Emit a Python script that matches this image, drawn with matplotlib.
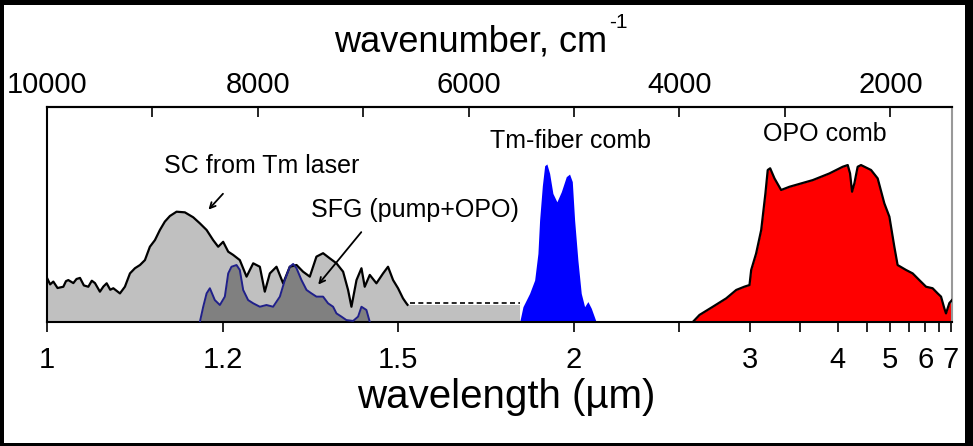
import matplotlib
matplotlib.use('Agg')
import matplotlib.pyplot as plt
from matplotlib.patches import Rectangle

FAM = ['Liberation Sans Narrow', 'Liberation Sans', 'DejaVu Sans']
plt.rcParams['font.family'] = FAM

# ---------------- data (x in wavenumber cm^-1, y in arbitrary units) ----------------
sc_wn = [10000, 9970, 9940, 9900, 9845, 9820, 9798, 9750, 9720, 9687, 9650, 9608, 9575, 9545,
         9498, 9465, 9434, 9400, 9371, 9308, 9261, 9213,
         9166, 9118, 9071, 9024, 8976, 8929, 8882, 8834, 8771, 8692, 8613, 8550, 8486, 8424,
         8376, 8329, 8281, 8234, 8171, 8107, 8044, 7981, 7934, 7886, 7823, 7760, 7697, 7633,
         7571, 7507, 7444, 7381, 7317, 7254, 7191, 7144, 7112, 7064, 7017, 6986, 6938, 6875,
         6812, 6765, 6717, 6670, 6623, 6591, 6580]
sc_val = [20.5, 17.5, 18.8, 15.8, 16.4, 19.0, 19.5, 18.1, 20.0, 20.5, 17.0, 16.4, 19.2, 18.1,
          14.1, 16.5, 18.0, 15.0, 15.7, 13.3, 16.4, 22.6,
          25.0, 26.5, 28.8, 35.0, 38.1, 42.8, 46.7, 49.3, 51.3, 51.0, 48.7, 45.9, 42.8, 38.1,
          35.0, 37.3, 32.7, 31.2, 28.8, 21.1, 27.3, 25.7, 14.1, 22.6, 25.7, 18.0, 25.7, 26.5,
          23.4, 21.1, 30.4, 32.0, 29.6, 27.3, 23.4, 14.9, 7.1, 19.5, 25.0, 16.4, 21.9, 18.0,
          22.6, 25.7, 19.5, 15.7, 11.0, 8.7, 8.0]

sfg_wn = [8550, 8518, 8486, 8455, 8408, 8360, 8313, 8281, 8250, 8202, 8171, 8139, 8092, 8044,
          7981, 7918, 7855, 7791, 7744, 7697, 7665, 7633, 7586, 7538, 7491, 7444, 7381, 7334,
          7286, 7254, 7207, 7160, 7096, 7049, 7017, 6970, 6938]
sfg_val = [0, 7.1, 13.3, 15.7, 10.2, 7.9, 11.8, 22.6, 25.7, 26.5, 24.2, 14.9, 10.2, 8.7,
           7.1, 7.9, 7.1, 11.8, 19.5, 25.7, 27.0, 25.0, 19.5, 14.9, 13.3, 11.8, 11.8, 8.7,
           7.1, 4.0, 2.5, 0.9, 0.5, 2.5, 7.1, 5.6, 0]

gap_wn = [6591, 5516]
gap_val = [8.0, 8.0]
dash_wn = [6560, 5516]
dash_val = [9.0, 9.0]

tm_wn = [5516, 5485, 5422, 5374, 5343, 5327, 5301, 5279, 5258, 5232, 5201, 5163, 5121, 5074,
         5043, 5017, 4995, 4964, 4932, 4900, 4869, 4837, 4790]
tm_val = [0, 7.1, 13.3, 19.5, 31.9, 47.4, 63.4, 72.7, 73.5, 69.1, 59.8, 55.9, 60.6, 67.6,
          68.8, 65.3, 47.4, 28.8, 13.3, 7.1, 9.5, 6.4, 0]

opo_wn = [3874, 3810, 3684, 3557, 3462, 3386, 3336, 3320, 3273, 3225, 3185, 3163, 3140, 3099,
          3036, 2957, 2736, 2578, 2452, 2404, 2382, 2363, 2341, 2310, 2278, 2183, 2120, 2057,
          2009, 1962, 1931, 1851, 1788, 1725, 1661, 1599, 1551, 1519, 1488, 1472, 1440, 1415]
opo_val = [0, 3.3, 7.1, 11.0, 14.9, 16.4, 17.2, 24.2, 31.9, 42.8, 59.8, 70.7, 71.5, 66.8,
           61.4, 62.9, 66.0, 69.1, 72.2, 73.0, 69.1, 60.6, 64.5, 72.2, 73.0, 70.7, 66.8, 55.2,
           49.0, 35.0, 26.5, 24.2, 22.6, 19.5, 16.4, 15.7, 13.3, 11.8, 6.4, 4.0, 8.8, 10.2]

wl_major = [1, 1.2, 1.5, 2, 3, 4, 5, 6, 7]
wl_minor = [2.5, 3.5, 4.5, 5.5, 6.5]
wn_major = [10000, 8000, 6000, 4000, 2000]
wn_minor = [9000, 7000, 5000, 3000]

labels = ['SC from Tm laser', 'SFG (pump+OPO)', 'Tm-fiber comb', 'OPO comb']

# ---------------- figure ----------------
fig = plt.figure(figsize=(9.73, 4.46), dpi=100, facecolor='black')
fig.patches.append(Rectangle((4 / 973, 3 / 446), 961 / 973, 438 / 446,
                             transform=fig.transFigure, facecolor='white',
                             edgecolor='none', zorder=-10))
ax = fig.add_axes([47 / 973, 124 / 446, 905 / 973, 215 / 446])
ax.set_xlim(10000, 1415)
ax.set_ylim(0, 100)

ax.fill_between(sc_wn, sc_val, 0, color='#c0c0c0', lw=0, zorder=1)
ax.plot(sc_wn, sc_val, color='black', lw=1.6, zorder=3)
ax.fill_between(sfg_wn, sfg_val, 0, color='#808080', lw=0, zorder=2)
ax.plot(sfg_wn, sfg_val, color='#20208a', lw=1.4, zorder=3)
ax.fill_between(gap_wn, gap_val, 0, color='#c0c0c0', lw=0, zorder=1)
ax.plot(dash_wn, dash_val, color='black', ls=(0, (3, 2)), lw=1.2, zorder=3)
ax.fill_between(tm_wn, tm_val, 0, color='#0000ff', lw=0, zorder=2)
ax.fill_between(opo_wn, opo_val, 0, color='#ff0000', lw=0, zorder=2)
ax.plot(opo_wn, opo_val, color='black', lw=1.6, zorder=3)

ax.text(7962, 72.6, labels[0], fontsize=18, ha='center', va='center')
ax.text(6512, 52.0, labels[1], fontsize=18, ha='center', va='center')
ax.text(5033, 84.2, labels[2], fontsize=18, ha='center', va='center')
ax.text(2625, 87.4, labels[3], fontsize=18, ha='center', va='center')

ax.annotate('', xy=(8486, 51.3), xytext=(8313, 60.6),
            arrowprops=dict(arrowstyle='->', lw=1.3, color='black', mutation_scale=10))
ax.annotate('', xy=(7444, 16.4), xytext=(7002, 42.8),
            arrowprops=dict(arrowstyle='->', lw=1.3, color='black', mutation_scale=10))

# bottom axis: wavelength labels placed at their wavenumbers
ax.set_xticks([1e4 / w for w in wl_major])
ax.set_xticklabels(['%g' % w for w in wl_major])
ax.set_xticks([1e4 / w for w in wl_minor], minor=True)
ax.tick_params(axis='x', which='both', direction='out', length=7, width=1.2,
               labelsize=21, pad=10)
ax.set_yticks([])
ax.set_xlabel('wavelength (\u00b5m)', fontsize=29, labelpad=3, x=0.507)
for s in ['left', 'bottom', 'top']:
    ax.spines[s].set_linewidth(1.5)
ax.spines['right'].set_color('#999999')
ax.spines['right'].set_linewidth(1.5)

# top axis: wavenumber
sec = ax.secondary_xaxis('top')
sec.set_xticks(wn_major)
sec.set_xticklabels(['%d' % w for w in wn_major])
sec.set_xticks(wn_minor, minor=True)
sec.tick_params(which='both', direction='in', length=7, width=1.2, labelsize=21, pad=6)
sec.spines['top'].set_linewidth(1.5)
sec.set_xlabel('wavenumber, cm', fontsize=26, labelpad=14, x=0.4685)
ax.annotate('-1', xy=(1, 1), xycoords=sec.xaxis.label, xytext=(1, 8),
            textcoords='offset points', fontsize=15, ha='left', va='top')

fig.savefig('out.png', dpi=100, facecolor=fig.get_facecolor())
